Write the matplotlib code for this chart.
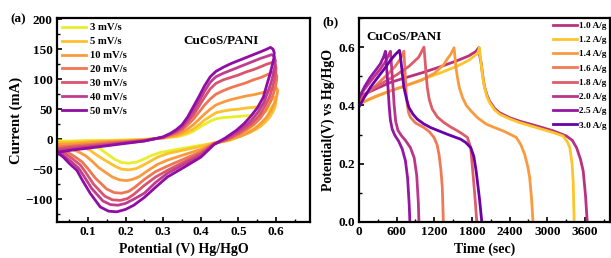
import matplotlib
matplotlib.use("Agg")
import matplotlib.pyplot as plt
from matplotlib.ticker import MultipleLocator

plt.rcParams['font.family'] = ['Liberation Serif', 'DejaVu Serif']
plt.rcParams['font.weight'] = 'bold'

# ---------------- CV data (a) ----------------
cv_labels = ['3 mV/s', '5 mV/s', '10 mV/s', '20 mV/s', '30 mV/s', '40 mV/s', '50 mV/s']
cv_colors = ['#e9ee2a', '#fdc02e', '#fb9a3c', '#ef7653', '#d9546d', '#bf3c8e', '#8f0da4']

V3 = [0.018, 0.06, 0.10, 0.15, 0.20, 0.25, 0.28, 0.30, 0.32, 0.335, 0.35, 0.365, 0.38, 0.395, 0.41, 0.425, 0.44, 0.46, 0.48, 0.50, 0.52, 0.54, 0.56, 0.575, 0.587, 0.594, 0.596, 0.594, 0.589, 0.582, 0.575, 0.555, 0.531, 0.505, 0.478, 0.435, 0.40, 0.346, 0.293, 0.27, 0.25, 0.23, 0.209, 0.19, 0.17, 0.15, 0.133, 0.115, 0.10, 0.06, 0.018]
I3 = [-3, -3, -2, -2, -1, 0, 1, 2, 3, 4, 6, 9, 13, 19, 25, 30, 34, 36, 37, 38, 39, 40, 43, 47, 53, 58, 56, 52, 46, 40, 34, 24, 14, 5, -2, -7, -10, -16, -22, -27, -33, -38, -40, -39, -33, -24, -16, -11, -8, -5, -3]

V5 = [0.018, 0.06, 0.10, 0.15, 0.20, 0.25, 0.28, 0.30, 0.32, 0.335, 0.35, 0.365, 0.38, 0.395, 0.41, 0.425, 0.44, 0.46, 0.48, 0.50, 0.52, 0.54, 0.56, 0.575, 0.588, 0.596, 0.600, 0.599, 0.596, 0.590, 0.582, 0.572, 0.56, 0.545, 0.53, 0.51, 0.49, 0.465, 0.435, 0.40, 0.355, 0.311, 0.285, 0.265, 0.245, 0.228, 0.21, 0.19, 0.175, 0.14, 0.12, 0.105, 0.08, 0.05, 0.018]
I5 = [-6, -5, -4, -3, -2, -1, 1, 2, 4, 5, 8, 12, 17, 24, 32, 38, 44, 47, 49, 50, 52, 53, 55, 59, 65, 70, 67, 60, 52, 44, 36, 29, 22, 16, 11, 6, 2, -2, -6, -12, -18, -24, -30, -37, -44, -49, -51, -50, -46, -33, -25, -18, -12, -8, -6]

V10 = [0.018, 0.06, 0.10, 0.15, 0.20, 0.25, 0.28, 0.30, 0.32, 0.335, 0.35, 0.365, 0.38, 0.395, 0.41, 0.425, 0.44, 0.46, 0.48, 0.50, 0.52, 0.54, 0.56, 0.578, 0.592, 0.600, 0.604, 0.603, 0.600, 0.594, 0.586, 0.575, 0.562, 0.545, 0.526, 0.505, 0.47, 0.435, 0.40, 0.355, 0.311, 0.285, 0.26, 0.235, 0.218, 0.204, 0.185, 0.165, 0.13, 0.11, 0.095, 0.075, 0.05, 0.018]
I10 = [-9, -8, -6, -4, -3, -1, 1, 2, 5, 7, 11, 17, 24, 33, 42, 50, 57, 62, 66, 69, 72, 74, 77, 80, 85, 86, 82, 76, 68, 58, 48, 37, 28, 18, 11, 5, -2, -7, -17, -26, -35, -42, -52, -63, -67, -69, -68, -63, -48, -36, -28, -21, -15, -9]

V20 = [0.018, 0.06, 0.10, 0.15, 0.20, 0.25, 0.28, 0.30, 0.32, 0.335, 0.35, 0.365, 0.38, 0.395, 0.41, 0.425, 0.44, 0.46, 0.48, 0.50, 0.52, 0.54, 0.56, 0.578, 0.592, 0.599, 0.602, 0.601, 0.598, 0.592, 0.584, 0.572, 0.558, 0.54, 0.522, 0.50, 0.47, 0.435, 0.40, 0.355, 0.311, 0.28, 0.25, 0.225, 0.208, 0.19, 0.17, 0.15, 0.12, 0.10, 0.085, 0.065, 0.045, 0.018]
I20 = [-13, -11, -9, -6, -4, -2, 1, 3, 7, 10, 15, 24, 33, 45, 57, 67, 75, 81, 86, 90, 94, 99, 103, 108, 112, 110, 105, 97, 87, 74, 61, 48, 35, 24, 16, 8, -1, -7, -21, -33, -45, -54, -67, -80, -87, -90, -89, -83, -65, -49, -38, -29, -21, -13]

V30 = [0.018, 0.06, 0.10, 0.15, 0.20, 0.25, 0.28, 0.30, 0.32, 0.335, 0.35, 0.365, 0.38, 0.395, 0.41, 0.425, 0.44, 0.46, 0.48, 0.50, 0.52, 0.54, 0.56, 0.575, 0.590, 0.597, 0.600, 0.599, 0.596, 0.590, 0.582, 0.570, 0.556, 0.538, 0.52, 0.50, 0.47, 0.435, 0.40, 0.355, 0.311, 0.28, 0.25, 0.222, 0.205, 0.186, 0.165, 0.145, 0.115, 0.095, 0.08, 0.06, 0.04, 0.018]
I30 = [-16, -13, -11, -8, -5, -2, 1, 3, 8, 12, 18, 29, 40, 55, 70, 84, 93, 99, 103, 107, 112, 116, 121, 125, 128, 125, 119, 111, 100, 85, 70, 55, 40, 28, 19, 10, 0, -8, -24, -38, -52, -63, -77, -92, -99, -102, -101, -95, -75, -56, -43, -33, -24, -16]

V40 = [0.018, 0.06, 0.10, 0.15, 0.20, 0.25, 0.28, 0.30, 0.32, 0.335, 0.35, 0.365, 0.38, 0.395, 0.41, 0.425, 0.44, 0.46, 0.48, 0.50, 0.52, 0.54, 0.56, 0.575, 0.588, 0.595, 0.598, 0.597, 0.593, 0.587, 0.579, 0.568, 0.553, 0.535, 0.518, 0.497, 0.467, 0.435, 0.40, 0.355, 0.311, 0.28, 0.25, 0.222, 0.20, 0.18, 0.16, 0.14, 0.11, 0.09, 0.075, 0.055, 0.035, 0.018]
I40 = [-19, -16, -13, -10, -6, -3, 1, 3, 9, 14, 21, 33, 47, 63, 80, 95, 104, 110, 115, 120, 125, 130, 135, 138, 141, 138, 131, 122, 110, 95, 80, 62, 46, 32, 22, 12, 1, -8, -27, -42, -57, -72, -90, -100, -107, -110, -109, -103, -82, -62, -48, -37, -27, -19]

V50 = [0.018, 0.06, 0.10, 0.15, 0.20, 0.25, 0.28, 0.30, 0.32, 0.335, 0.35, 0.365, 0.38, 0.395, 0.41, 0.425, 0.44, 0.46, 0.48, 0.50, 0.52, 0.54, 0.56, 0.575, 0.585, 0.592, 0.595, 0.594, 0.590, 0.584, 0.576, 0.566, 0.55, 0.531, 0.515, 0.495, 0.465, 0.435, 0.40, 0.355, 0.311, 0.28, 0.25, 0.222, 0.20, 0.177, 0.155, 0.133, 0.106, 0.085, 0.071, 0.05, 0.035, 0.018]
I50 = [-22, -18, -15, -11, -7, -3, 1, 4, 10, 16, 24, 37, 54, 71, 89, 104, 113, 120, 126, 131, 136, 141, 146, 150, 153, 150, 144, 135, 124, 109, 92, 70, 52, 37, 26, 15, 2, -9, -30, -47, -63, -80, -97, -110, -117, -121, -120, -113, -90, -68, -52, -40, -30, -22]

cv_V = [V3, V5, V10, V20, V30, V40, V50]
cv_I = [I3, I5, I10, I20, I30, I40, I50]

# ---------------- GCD data (b) ----------------
gcd_labels = ['1.0 A/g', '1.2 A/g', '1.4 A/g', '1.6 A/g', '1.8 A/g', '2.0 A/g', '2.5 A/g', '3.0 A/g']
gcd_colors = ['#b83280', '#fdc52c', '#f99a3e', '#f07a55', '#dd5d68', '#bb3689', '#9516a3', '#6a00a8']

t10 = [0, 250, 501, 770, 1035, 1300, 1568, 1750, 1860, 1909, 1920, 1947, 1970, 2000, 2040, 2080, 2160, 2240, 2400, 2560, 2827, 3093, 3307, 3400, 3467, 3530, 3573, 3610, 3637]
v10 = [0.43, 0.455, 0.479, 0.497, 0.514, 0.533, 0.554, 0.57, 0.585, 0.598, 0.575, 0.545, 0.505, 0.465, 0.435, 0.415, 0.39, 0.375, 0.358, 0.346, 0.33, 0.313, 0.295, 0.28, 0.255, 0.215, 0.175, 0.09, 0.0]

t12 = [0, 250, 501, 770, 1035, 1300, 1568, 1750, 1888, 1920, 1930, 1947, 1970, 2000, 2040, 2080, 2160, 2240, 2400, 2560, 2827, 3093, 3253, 3320, 3360, 3395, 3413, 3429]
v12 = [0.405, 0.428, 0.45, 0.47, 0.491, 0.512, 0.535, 0.555, 0.578, 0.598, 0.575, 0.543, 0.5, 0.462, 0.43, 0.41, 0.385, 0.37, 0.354, 0.341, 0.324, 0.307, 0.295, 0.275, 0.255, 0.2, 0.14, 0.0]

t14 = [0, 250, 500, 750, 1000, 1200, 1350, 1408, 1460, 1515, 1525, 1545, 1568, 1600, 1648, 1710, 1781, 1888, 2027, 2160, 2293, 2400, 2507, 2580, 2640, 2690, 2720, 2750, 2773]
v14 = [0.405, 0.43, 0.45, 0.468, 0.487, 0.51, 0.54, 0.56, 0.575, 0.598, 0.575, 0.53, 0.497, 0.46, 0.428, 0.4, 0.382, 0.358, 0.336, 0.324, 0.313, 0.302, 0.29, 0.265, 0.232, 0.19, 0.152, 0.08, 0.0]

t16 = [0, 150, 300, 450, 580, 660, 715, 722, 735, 750, 768, 790, 821, 900, 1035, 1120, 1195, 1245, 1275, 1305, 1328, 1344]
v16 = [0.41, 0.445, 0.475, 0.505, 0.535, 0.56, 0.586, 0.56, 0.51, 0.45, 0.405, 0.375, 0.359, 0.34, 0.324, 0.31, 0.29, 0.265, 0.232, 0.18, 0.117, 0.0]

t18 = [0, 200, 400, 600, 800, 950, 1035, 1045, 1065, 1088, 1120, 1168, 1250, 1355, 1460, 1568, 1650, 1728, 1780, 1813, 1850, 1877]
v18 = [0.42, 0.455, 0.48, 0.505, 0.535, 0.565, 0.6, 0.575, 0.52, 0.462, 0.42, 0.387, 0.36, 0.341, 0.326, 0.313, 0.302, 0.29, 0.255, 0.175, 0.08, 0.0]

t20 = [0, 120, 235, 330, 421, 470, 501, 508, 520, 540, 560, 585, 620, 670, 740, 820, 880, 920, 945, 955]
v20 = [0.43, 0.465, 0.497, 0.522, 0.55, 0.572, 0.586, 0.57, 0.53, 0.47, 0.40, 0.345, 0.315, 0.298, 0.28, 0.255, 0.22, 0.16, 0.07, 0.0]

t25 = [0, 90, 181, 270, 341, 395, 421, 428, 440, 460, 480, 500, 530, 570, 630, 690, 740, 775, 800, 811]
v25 = [0.425, 0.465, 0.497, 0.522, 0.543, 0.568, 0.586, 0.57, 0.53, 0.47, 0.40, 0.35, 0.318, 0.298, 0.278, 0.25, 0.21, 0.15, 0.06, 0.0]

t30 = [0, 90, 181, 260, 341, 420, 501, 580, 645, 660, 680, 715, 760, 795, 860, 928, 1030, 1141, 1280, 1408, 1520, 1621, 1700, 1781, 1830, 1867, 1920, 1957]
v30 = [0.395, 0.43, 0.462, 0.485, 0.508, 0.53, 0.555, 0.575, 0.589, 0.57, 0.53, 0.462, 0.42, 0.393, 0.37, 0.353, 0.337, 0.324, 0.312, 0.301, 0.292, 0.284, 0.273, 0.255, 0.225, 0.175, 0.08, 0.0]

gcd_t = [t10, t12, t14, t16, t18, t20, t25, t30]
gcd_v = [v10, v12, v14, v16, v18, v20, v25, v30]

# ---------------- Figure ----------------
fig = plt.figure(figsize=(6.11, 2.58), dpi=100)
ax1 = fig.add_axes([57/611, 1-222/258, (310-57)/611, (222-18)/258])
ax2 = fig.add_axes([359/611, 1-222/258, (610-359)/611, (222-18)/258])

for V, I, c, lab in zip(cv_V, cv_I, cv_colors, cv_labels):
    ax1.plot(V, I, color=c, lw=2.0, label=lab, solid_joinstyle='round')

ax1.set_xlim(0.018, 0.69)
ax1.set_ylim(-138, 202)
ax1.xaxis.set_minor_locator(MultipleLocator(0.05))
ax1.yaxis.set_major_locator(MultipleLocator(50))
ax1.yaxis.set_minor_locator(MultipleLocator(25))
ax1.set_xticks([0.1, 0.2, 0.3, 0.4, 0.5, 0.6])
ax1.set_xticklabels(['0.1', '0.2', '0.3', '0.4', '0.5', '0.6'])
ax1.set_xlabel('Potential (V) Hg/HgO', fontsize=10, fontweight='bold', labelpad=3)
ax1.set_ylabel('Current (mA)', fontsize=10.5, fontweight='bold', labelpad=2)
ax1.text(0.5, 0.885, 'CuCoS/PANI', transform=ax1.transAxes, fontsize=9.5,
         fontweight='bold', ha='left', va='center')
leg1 = ax1.legend(loc='upper left', bbox_to_anchor=(0.0, 1.0), frameon=False,
                  fontsize=7.7, handlelength=2.3, handletextpad=0.3,
                  labelspacing=0.42, borderaxespad=0.25, borderpad=0.2)
for t in leg1.get_texts():
    t.set_fontweight('bold')

for t, v, c, lab in zip(gcd_t, gcd_v, gcd_colors, gcd_labels):
    ax2.plot(t, v, color=c, lw=2.0, label=lab, solid_joinstyle='round')

ax2.set_xlim(0, 4000)
ax2.set_ylim(0, 0.70)
ax2.xaxis.set_minor_locator(MultipleLocator(300))
ax2.yaxis.set_minor_locator(MultipleLocator(0.1))
ax2.set_xticks([0, 600, 1200, 1800, 2400, 3000, 3600])
ax2.set_yticks([0.0, 0.2, 0.4, 0.6])
ax2.set_yticklabels(['0.0', '0.2', '0.4', '0.6'])
ax2.set_xlabel('Time (sec)', fontsize=10, fontweight='bold', labelpad=3)
ax2.set_ylabel('Potential(V) vs Hg/HgO', fontsize=10, fontweight='bold', labelpad=2)
ax2.text(0.03, 0.905, 'CuCoS/PANI', transform=ax2.transAxes, fontsize=9.5,
         fontweight='bold', ha='left', va='center')
leg2 = ax2.legend(loc='upper right', bbox_to_anchor=(1.0, 1.0), frameon=False,
                  fontsize=6.7, handlelength=2.6, handletextpad=0.25,
                  labelspacing=0.62, borderaxespad=0.2, borderpad=0.15)
for t in leg2.get_texts():
    t.set_fontweight('bold')

for ax in (ax1, ax2):
    for s in ax.spines.values():
        s.set_linewidth(1.6)
    ax.tick_params(which='both', direction='in', top=False, right=False)
    ax.tick_params(which='major', length=3.5, width=1.2, labelsize=9.5, pad=3)
    ax.tick_params(which='minor', length=2, width=1.0)
    for lab in ax.get_xticklabels() + ax.get_yticklabels():
        lab.set_fontweight('bold')

fig.text(10/611, 1-19/258, '(a)', fontsize=9.5, fontweight='bold', ha='left', va='center')
fig.text(322/611, 1-22/258, '(b)', fontsize=9.5, fontweight='bold', ha='left', va='center')

fig.savefig('out.png', dpi=100)
